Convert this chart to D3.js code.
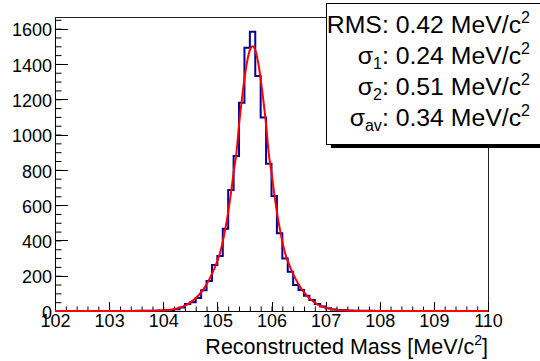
<!DOCTYPE html>
<html>
<head>
<meta charset="utf-8">
<script src="https://cdn.jsdelivr.net/npm/d3@7"></script>
<style>
  body { margin: 0; background: #fff; }
  svg { display: block; font-family: "Liberation Sans", Arial, Helvetica, sans-serif; }
</style>
</head>
<body>
<svg width="540" height="361"></svg>
<script>
// histogram: 80 bins of 0.1 MeV/c^2 from 102 to 110
const binLow = 102, binWidth = 0.1;
const counts = [
  0, 0, 0, 0, 0, 0, 0, 0, 0, 0,
  0, 0, 0, 0, 0, 1, 1, 1, 2, 3,
  4, 6, 10, 20, 40, 50, 74, 117, 170, 261,
  311, 466, 686, 879, 1180, 1492, 1582, 1331, 1097, 835,
  651, 440, 298, 223, 147, 119, 87, 62, 40, 25,
  15, 9, 6, 4, 3, 2, 1, 1, 1, 0,
  0, 0, 0, 0, 0, 0, 0, 0, 0, 0,
  0, 0, 0, 0, 0, 0, 0, 0, 0, 0
];

// fit curve
const fitX = [102, 103, 103.5, 103.85, 104.05, 104.25, 104.45, 104.65, 104.75, 104.85, 104.95, 105.05,
  105.15, 105.2, 105.25, 105.3, 105.35, 105.4, 105.45, 105.5, 105.55, 105.6, 105.65, 105.7, 105.75,
  105.8, 105.85, 105.9, 105.95, 106.0, 106.05, 106.1, 106.15, 106.25, 106.35, 106.45, 106.55, 106.65,
  106.75, 106.85, 106.95, 107.05, 107.15, 107.25, 107.45, 107.8, 108.5, 110];
const fitY = [0, 0, 0, 1, 4, 14, 38, 88, 127, 179, 245, 330,
  471, 562, 665, 785, 890, 1055, 1192, 1315, 1414, 1478, 1500, 1478, 1414,
  1315, 1192, 1055, 890, 785, 665, 562, 471, 330, 245, 179, 127, 88,
  59, 38, 23, 14, 8, 4, 1, 0, 0, 0];

const xTicks = [102, 103, 104, 105, 106, 107, 108, 109, 110];
const yTicks = [0, 200, 400, 600, 800, 1000, 1200, 1400, 1600];

const statLines = [
  { sym: "RMS", sub: null, val: "0.42" },
  { sym: "\u03c3", sub: "1", val: "0.24" },
  { sym: "\u03c3", sub: "2", val: "0.51" },
  { sym: "\u03c3", sub: "av", val: "0.34" }
];

const frameL = 55, frameR = 488, frameT = 17, frameB = 311;
const svg = d3.select("svg");

const x = d3.scaleLinear().domain([102, 110]).range([frameL, frameR]);
const y = d3.scaleLinear().domain([0, 1666]).range([frameB, frameT]);

// frame
svg.append("rect").attr("x", frameL).attr("y", frameT)
  .attr("width", frameR - frameL).attr("height", frameB - frameT)
  .attr("fill", "none").attr("stroke", "#222").attr("stroke-width", 1)
  .attr("shape-rendering", "crispEdges");

// minor ticks
const xMinor = d3.range(102, 110.001, 0.2);
const yMinor = d3.range(0, 1651, 50);
svg.append("g").attr("transform", `translate(0,${frameB})`)
  .call(d3.axisBottom(x).tickValues(xMinor).tickSizeInner(-4.5).tickSizeOuter(0).tickFormat(""))
  .call(g => g.select(".domain").remove());
svg.append("g").attr("transform", `translate(${frameL},0)`)
  .call(d3.axisLeft(y).tickValues(yMinor).tickSizeInner(-6.5).tickSizeOuter(0).tickFormat(""))
  .call(g => g.select(".domain").remove());

// major axes
const gx = svg.append("g").attr("transform", `translate(0,${frameB})`)
  .call(d3.axisBottom(x).tickValues(xTicks).tickSizeInner(-9).tickSizeOuter(0).tickPadding(4).tickFormat(d3.format("d")));
const gy = svg.append("g").attr("transform", `translate(${frameL},0)`)
  .call(d3.axisLeft(y).tickValues(yTicks).tickSizeInner(-13).tickSizeOuter(0).tickPadding(3).tickFormat(d3.format("d")));
[gx, gy].forEach(g => {
  g.selectAll("text").attr("font-size", 18).attr("fill", "#000");
  g.attr("font-family", null);
  g.selectAll("line, path").attr("stroke", "#000").attr("shape-rendering", "crispEdges");
});
gy.selectAll("text").attr("dy", "0.4em");
gx.selectAll("text").attr("dy", "0.68em");

// histogram outline
const steps = counts.map((c, i) => [binLow + i * binWidth, c]);
steps.push([binLow + counts.length * binWidth, counts[counts.length - 1]]);
svg.append("path")
  .attr("d", d3.line().x(d => x(d[0])).y(d => y(d[1])).curve(d3.curveStepAfter)(steps))
  .attr("fill", "none").attr("stroke", "#000099").attr("stroke-width", 2);

// fit
svg.append("path")
  .attr("d", d3.line().x((d, i) => x(fitX[i])).y(d => y(d)).curve(d3.curveMonotoneX)(fitY))
  .attr("fill", "none").attr("stroke", "#ff0000").attr("stroke-width", 2);

// axis title
const title = svg.append("text").attr("x", frameR).attr("y", 354)
  .attr("text-anchor", "end").attr("font-size", 21.5);
title.append("tspan").text("Reconstructed Mass [MeV/c");
title.append("tspan").attr("font-size", 14).attr("dy", -9).text("2");
title.append("tspan").attr("dy", 9).text("]");

// stats box
svg.append("rect").attr("x", 331).attr("y", 145).attr("width", 220).attr("height", 3).attr("fill", "#000");
svg.append("rect").attr("x", 326.5).attr("y", 3.5).attr("width", 230).attr("height", 141)
  .attr("fill", "#fff").attr("stroke", "#000").attr("stroke-width", 1);

statLines.forEach((s, i) => {
  const t = svg.append("text").attr("x", 530).attr("y", 33 + i * 31)
    .attr("text-anchor", "end").attr("font-size", 24.8);
  t.append("tspan").text(s.sym);
  let shift = 0;
  if (s.sub) {
    t.append("tspan").attr("font-size", 16).attr("dy", 5).text(s.sub);
    shift = 5;
  }
  t.append("tspan").attr("dy", -shift).text(`: ${s.val} MeV/c`);
  t.append("tspan").attr("font-size", 16).attr("dy", -10).text("2");
});
</script>
</body>
</html>
